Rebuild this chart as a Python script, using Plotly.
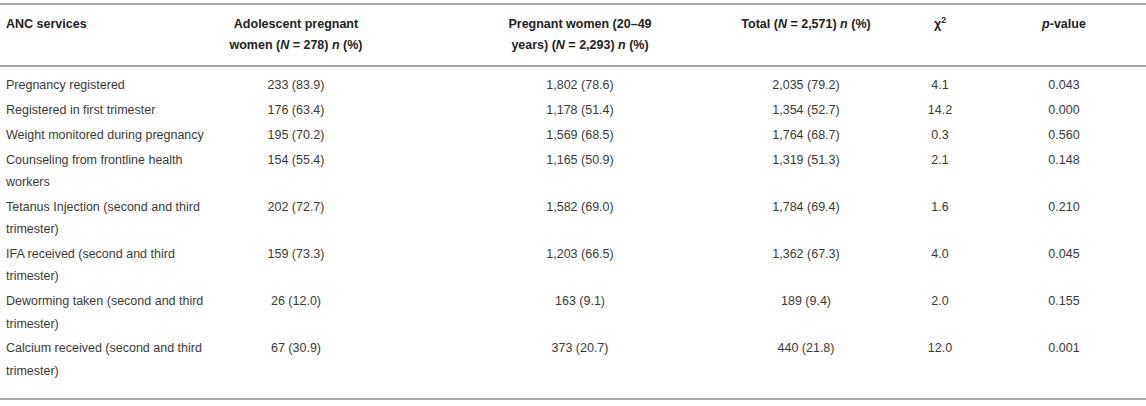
import plotly.graph_objects as go

# ANC services table
services = [
    "Pregnancy registered",
    "Registered in first trimester",
    "Weight monitored during pregnancy",
    "Counseling from frontline health<br>workers",
    "Tetanus Injection (second and third<br>trimester)",
    "IFA received (second and third<br>trimester)",
    "Deworming taken (second and third<br>trimester)",
    "Calcium received (second and third<br>trimester)",
]
ado_n = [233, 176, 195, 154, 202, 159, 26, 67]
ado_pct = [83.9, 63.4, 70.2, 55.4, 72.7, 73.3, 12.0, 30.9]
adult_n = [1802, 1178, 1569, 1165, 1582, 1203, 163, 373]
adult_pct = [78.6, 51.4, 68.5, 50.9, 69.0, 66.5, 9.1, 20.7]
total_n = [2035, 1354, 1764, 1319, 1784, 1362, 189, 440]
total_pct = [79.2, 52.7, 68.7, 51.3, 69.4, 67.3, 9.4, 21.8]
chi2 = [4.1, 14.2, 0.3, 2.1, 1.6, 4.0, 2.0, 12.0]
p_values = [0.043, 0.000, 0.560, 0.148, 0.210, 0.045, 0.155, 0.001]

headers = [
    "ANC services",
    "Adolescent pregnant<br>women (<i>N</i> = 278) <i>n</i> (%)",
    "Pregnant women (20–49<br>years) (<i>N</i> = 2,293) <i>n</i> (%)",
    "Total (<i>N</i> = 2,571) <i>n</i> (%)",
    "χ<sup>2</sup>",
    "<i>p</i>-value",
]


def n_pct(ns, pcts):
    return ["{:,} ({:.1f})".format(n, p) for n, p in zip(ns, pcts)]


num_cols = [
    n_pct(ado_n, ado_pct),
    n_pct(adult_n, adult_pct),
    n_pct(total_n, total_pct),
    ["{:.1f}".format(c) for c in chi2],
    ["{:.3f}".format(p) for p in p_values],
]

# layout of the table, in page pixels (axes run 1:1 with the page)
W, H = 1146, 406
col_x = [6, 296, 580, 806, 940, 1064]   # left edge of col 1, centres of the rest
head_y = 25
head_step = 20.5
first_row_y = 86
line_step = 22.4
row_gap = 24.8
rules_y = [4, 66, 399]

body_font = dict(family="Liberation Sans", size=12.5, color="#3a3a3a")
head_font = dict(family="Liberation Sans", size=12.5, color="#222222")

# first-line position of every row
row_y = []
y = first_row_y
for s in services:
    row_y.append(y)
    y += s.count("<br>") * line_step + row_gap

fig = go.Figure()

# header
hx, hy, ht, hpos = [], [], [], []
for i, h in enumerate(headers):
    for j, part in enumerate(h.split("<br>")):
        hx.append(col_x[i])
        hy.append(head_y + j * head_step)
        ht.append("<b>" + part + "</b>")
        hpos.append("middle right" if i == 0 else "middle center")
fig.add_trace(go.Scatter(x=hx, y=hy, text=ht, mode="text", textposition=hpos,
                         textfont=head_font, hoverinfo="skip", showlegend=False))

# first column, one point per printed line
sx, sy, st = [], [], []
for r, s in enumerate(services):
    for j, part in enumerate(s.split("<br>")):
        sx.append(col_x[0])
        sy.append(row_y[r] + j * line_step)
        st.append(part)
fig.add_trace(go.Scatter(x=sx, y=sy, text=st, mode="text", textposition="middle right",
                         textfont=body_font, hoverinfo="skip", showlegend=False))

# numeric columns
for c, col in enumerate(num_cols):
    fig.add_trace(go.Scatter(x=[col_x[c + 1]] * len(col), y=row_y, text=col,
                             mode="text", textposition="middle center",
                             textfont=body_font, hoverinfo="skip", showlegend=False))

for ry in rules_y:
    fig.add_shape(type="line", xref="paper", yref="y", x0=0, x1=1, y0=ry, y1=ry,
                  line=dict(color="#a8a8a8", width=2))

fig.update_layout(
    width=W, height=H,
    margin=dict(l=0, r=0, t=0, b=0),
    paper_bgcolor="white",
    plot_bgcolor="white",
    xaxis=dict(range=[0, W], visible=False, fixedrange=True),
    yaxis=dict(range=[H, 0], visible=False, fixedrange=True),
)

# the page's default body margin would push the figure 8px right and down
fig.write_html("out.html", config={"displayModeBar": False},
               post_script="document.body.style.margin='0';document.body.style.overflow='hidden';")
